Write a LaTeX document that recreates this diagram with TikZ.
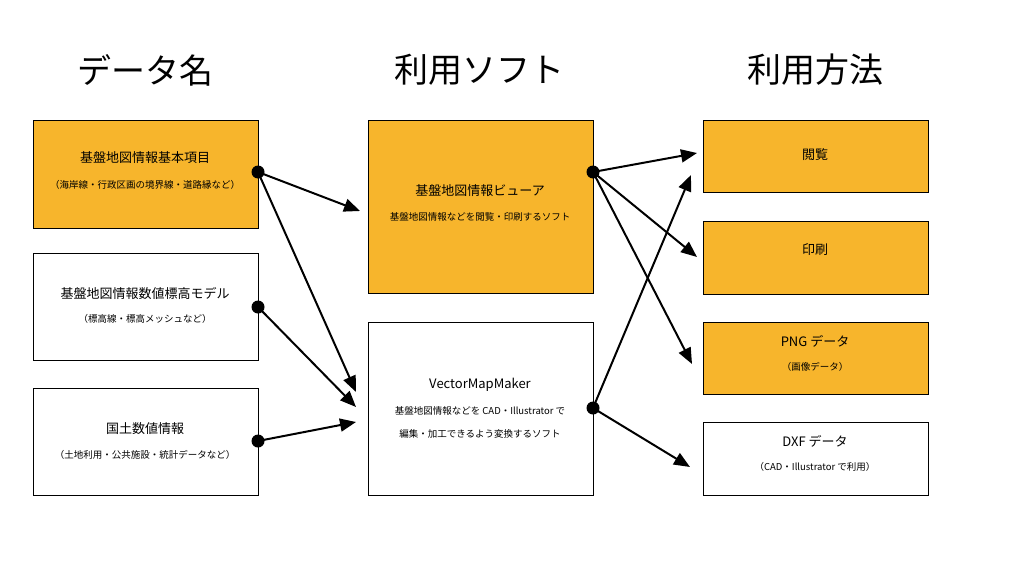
\documentclass[tikz,border=0pt]{standalone}
\usepackage{fontspec}
\setmainfont{Noto Sans CJK JP}
\usetikzlibrary{arrows.meta}
\definecolor{org}{HTML}{F7B52C}
\begin{document}
\begin{tikzpicture}[x=1pt,y=-1pt,
  box/.style={draw=black,line width=0.8pt,minimum width=225pt,anchor=north west},
  hd/.style={font=\fontsize{34}{40}\selectfont},
  tt/.style={font=\fontsize{13}{15}\selectfont},
  st/.style={font=\fontsize{9.5}{12}\selectfont},
  dot/.style={circle,fill=black,inner sep=0pt,minimum size=13pt},
  arr/.style={line width=2pt,-{Triangle[length=16pt,width=13pt]}}]
\useasboundingbox (0,0) rectangle (1024,586);
\node[hd] (h1) at (145,70) {データ名};
\node[hd] (h2) at (479,70) {利用ソフト};
\node[hd] (h3) at (815,70) {利用方法};
% left
\node[box,fill=org,minimum height=108pt] (l1) at (33,120) {};
\node[tt] at (145,158) {基盤地図情報基本項目};
\node[st] at (145,185) {（海岸線・行政区画の境界線・道路縁など）};
\node[box,minimum height=107pt] (l2) at (33,253) {};
\node[tt] at (145,293) {基盤地図情報数値標高モデル};
\node[st] at (145,319) {（標高線・標高メッシュなど）};
\node[box,minimum height=107pt] (l3) at (33,388) {};
\node[tt] at (145,429) {国土数値情報};
\node[st] at (145,455) {（土地利用・公共施設・統計データなど）};
% middle
\node[box,fill=org,minimum height=173pt] (m1) at (368,120) {};
\node[tt] at (480,191) {基盤地図情報ビューア};
\node[st] at (480,217) {基盤地図情報などを閲覧・印刷するソフト};
\node[box,minimum height=173pt] (m2) at (368,322) {};
\node[tt] at (480,385) {VectorMapMaker};
\node[st] at (480,411) {基盤地図情報などを CAD・Illustrator で};
\node[st] at (480,434) {編集・加工できるよう変換するソフト};
% right
\node[box,fill=org,minimum height=72pt] (r1) at (703,120) {};
\node[tt] at (815,155) {閲覧};
\node[box,fill=org,minimum height=73pt] (r2) at (703,221) {};
\node[tt] at (815,250) {印刷};
\node[box,fill=org,minimum height=72pt] (r3) at (703,322) {};
\node[tt] at (815,341) {PNG データ};
\node[st] at (815,367) {（画像データ）};
\node[box,minimum height=73pt] (r4) at (703,422) {};
\node[tt] at (815,441) {DXF データ};
\node[st] at (815,467) {（CAD・Illustrator で利用）};
% dots
\node[dot] (d1) at (258,172) {};
\node[dot] (d2) at (258,307) {};
\node[dot] (d3) at (258,441) {};
\node[dot] (d4) at (593,172) {};
\node[dot] (d5) at (593,408) {};
\coordinate (t1) at (360,211);
\coordinate (t2) at (356,392);
\coordinate (t3) at (356,407);
\coordinate (t4) at (356,422);
\coordinate (t5) at (697,153);
\coordinate (t6) at (697,257);
\coordinate (t7) at (692,364);
\coordinate (t8) at (691,175);
\coordinate (t9) at (690,467);
\draw[arr] (d1.center) -- (t1);
\draw[arr] (d1.center) -- (t2);
\draw[arr] (d2.center) -- (t3);
\draw[arr] (d3.center) -- (t4);
\draw[arr] (d4.center) -- (t5);
\draw[arr] (d4.center) -- (t6);
\draw[arr] (d4.center) -- (t7);
\draw[arr] (d5.center) -- (t8);
\draw[arr] (d5.center) -- (t9);
\end{tikzpicture}
\end{document}
